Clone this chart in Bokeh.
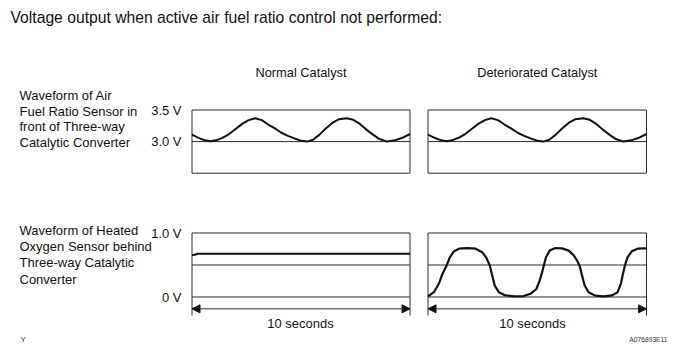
from bokeh.plotting import figure
from bokeh.models import Range1d, Arrow, NormalHead
from bokeh.core.properties import value
from bokeh.embed import file_html
from bokeh.resources import INLINE

# ---------------- data ----------------
TITLE = "Voltage output when active air fuel ratio control not performed:"
CATALYSTS = ["Normal Catalyst", "Deteriorated Catalyst"]
TIME_SPAN_S = [0, 10]
TIME_LABEL = "10 seconds"

AF_LABEL = ["Waveform of Air", "Fuel Ratio Sensor in", "front of Three-way", "Catalytic Converter"]
AF_RANGE_V = [2.5, 3.5]
AF_TICKS = [3.5, 3.0]
AF_TICK_LABELS = ["3.5 V", "3.0 V"]
AF_REF_V = 3.0
# Air fuel ratio sensor (same for both catalysts)
AF_T = [0.0, 0.3, 0.6, 0.85, 1.1, 1.4, 1.7, 2.0, 2.3, 2.6, 2.9, 3.2, 3.5, 3.8,
        4.1, 4.4, 4.7, 5.0, 5.27, 5.55, 5.85, 6.15, 6.45, 6.75, 7.1, 7.4, 7.7,
        8.0, 8.3, 8.6, 8.95, 9.3, 9.65, 10.0]
AF_V = [3.11, 3.06, 3.02, 3.005, 3.02, 3.06, 3.12, 3.20, 3.28, 3.34, 3.37, 3.34,
        3.27, 3.21, 3.14, 3.09, 3.05, 3.015, 3.0, 3.03, 3.11, 3.21, 3.30, 3.355,
        3.37, 3.345, 3.28, 3.19, 3.11, 3.04, 3.0, 3.02, 3.06, 3.12]

O2_LABEL = ["Waveform of Heated", "Oxygen Sensor behind", "Three-way Catalytic", "Converter"]
O2_RANGE_V = [0.0, 1.0]
O2_TICKS = [1.0, 0.0]
O2_TICK_LABELS = ["1.0 V", "0 V"]
O2_REF_V = 0.5
# Heated oxygen sensor, normal catalyst
O2_NORMAL_T = [0.0, 0.12, 0.25, 10.0]
O2_NORMAL_V = [0.655, 0.66, 0.675, 0.675]
# Heated oxygen sensor, deteriorated catalyst
O2_DET_T = [0.0, 0.27, 0.5, 0.66, 0.85, 1.0, 1.19, 1.42, 1.8, 2.18, 2.48, 2.66,
            2.83, 2.94, 3.05, 3.24, 3.55, 3.93, 4.38, 4.69, 4.96, 5.11, 5.22,
            5.30, 5.40, 5.57, 5.83, 6.13, 6.44, 6.67, 6.82, 6.94, 7.05, 7.17,
            7.35, 7.66, 8.04, 8.42, 8.68, 8.83, 8.92, 9.01, 9.13, 9.33, 9.59,
            9.89, 10.0]
O2_DET_V = [0.01, 0.075, 0.21, 0.36, 0.49, 0.62, 0.715, 0.755, 0.765, 0.755,
            0.70, 0.62, 0.49, 0.335, 0.18, 0.075, 0.025, 0.01, 0.015, 0.05,
            0.125, 0.255, 0.385, 0.49, 0.62, 0.725, 0.765, 0.76, 0.725, 0.65,
            0.57, 0.49, 0.335, 0.18, 0.075, 0.02, 0.01, 0.025, 0.075, 0.21,
            0.36, 0.49, 0.62, 0.715, 0.755, 0.76, 0.76]

FIG_NOTE_LEFT = "Y"
FIG_NOTE_RIGHT = "A076893E11"

# ---------------- layout (picture pixel positions) ----------------
W, H = 669, 345
PX0, PX1, PY0, PY1 = 0, W, 0, H
COLS = [(191.5, 409.5), (427.5, 646.0)]          # panel left/right edges
AF_PX = (109.5, 172.7)                            # panel top/bottom (3.5 V / 2.5 V)
O2_PX = (232.5, 296.5)                            # 1.0 V / 0 V
ARROW_DV = -0.185                                 # arrow below 0 V (in volts of O2 panel)
SIDE_DV = -0.29
FONT = "Liberation Sans"
INK = "#111111"
FRAME = "#2a2a2a"


def t_range(lpx, rpx):
    s = (TIME_SPAN_S[1] - TIME_SPAN_S[0]) / (rpx - lpx)
    return Range1d(start=TIME_SPAN_S[0] + (PX0 - lpx) * s, end=TIME_SPAN_S[0] + (PX1 - lpx) * s)


def v_range(top_px, bot_px, vlo, vhi):
    s = (vhi - vlo) / (bot_px - top_px)
    return Range1d(start=vlo - (PY1 - bot_px) * s, end=vhi + (top_px - PY0) * s)


p = figure(width=W, height=H, output_backend="svg", toolbar_location=None,
           x_range=Range1d(PX0, PX1), y_range=Range1d(PY1, PY0),
           x_axis_type=None, y_axis_type=None, min_border=0,
           outline_line_color=None, background_fill_color="white",
           border_fill_color="white")
p.grid.visible = False
p.extra_x_ranges = {"c0": t_range(*COLS[0]), "c1": t_range(*COLS[1])}
p.extra_y_ranges = {"af": v_range(AF_PX[0], AF_PX[1], *AF_RANGE_V),
                    "o2": v_range(O2_PX[0], O2_PX[1], *O2_RANGE_V)}


def txt(x, y, s, size, align="left", color=INK, xr="default", yr="default"):
    p.text(x=[x], y=[y], text=[s], text_font=value(FONT), text_font_size=size,
           text_align=align, text_baseline="middle", text_color=color,
           x_range_name=xr, y_range_name=yr)


# title & notes
txt(10, 17, TITLE, "15.7px")
txt(20, 339, FIG_NOTE_LEFT, "8px", color="#333333")
txt(667, 339, FIG_NOTE_RIGHT, "6.7px", align="right", color="#333333")

# row labels
for i, s in enumerate(AF_LABEL):
    txt(19, 95 + i * 15.6, s, "13px")
for i, s in enumerate(O2_LABEL):
    txt(19, 230 + i * 16.2, s, "13px")

# tick labels (placed on the volt scales)
for v, s in zip(AF_TICKS, AF_TICK_LABELS):
    txt(181, v, s, "13px", align="right", yr="af")
for v, s in zip(O2_TICKS, O2_TICK_LABELS):
    txt(181, v, s, "13px", align="right", yr="o2")

t0, t1 = TIME_SPAN_S
tmid = (t0 + t1) / 2
for ci, name in enumerate(CATALYSTS):
    xr = "c%d" % ci
    # column header
    txt(tmid, 72, name, "12.8px", align="center", xr=xr)
    # ---- top panel (A/F sensor) ----
    p.quad(left=[t0], right=[t1], bottom=[AF_RANGE_V[0]], top=[AF_RANGE_V[1]],
           fill_color=None, line_color=FRAME, line_width=1, x_range_name=xr, y_range_name="af")
    p.segment(x0=[t0], x1=[t1], y0=[AF_REF_V], y1=[AF_REF_V], line_color=FRAME,
              line_width=1, x_range_name=xr, y_range_name="af")
    p.line(AF_T, AF_V, line_color=INK, line_width=2, line_join="round",
           x_range_name=xr, y_range_name="af")
    # ---- bottom panel (HO2 sensor) ----
    p.segment(x0=[t0, t0, t0, t0, t1], x1=[t1, t1, t1, t0, t1],
              y0=[O2_RANGE_V[1], O2_REF_V, O2_RANGE_V[0], O2_RANGE_V[1], O2_RANGE_V[1]],
              y1=[O2_RANGE_V[1], O2_REF_V, O2_RANGE_V[0], SIDE_DV, SIDE_DV],
              line_color=FRAME, line_width=1, x_range_name=xr, y_range_name="o2")
    if ci == 0:
        p.line(O2_NORMAL_T, O2_NORMAL_V, line_color=INK, line_width=2,
               line_join="round", x_range_name=xr, y_range_name="o2")
    else:
        p.line(O2_DET_T, O2_DET_V, line_color=INK, line_width=2.2,
               line_join="round", x_range_name=xr, y_range_name="o2")
    p.add_layout(Arrow(x_start=t0, y_start=ARROW_DV, x_end=t1, y_end=ARROW_DV,
                       line_color=FRAME, line_width=1,
                       start=NormalHead(size=8, fill_color=INK, line_color=INK, line_width=1),
                       end=NormalHead(size=8, fill_color=INK, line_color=INK, line_width=1),
                       x_range_name=xr, y_range_name="o2"))

# time span labels
txt(300, 323, TIME_LABEL, "13px", align="center")
txt(532, 323, TIME_LABEL, "13px", align="center")

open("out.html", "w").write(file_html(p, INLINE))
